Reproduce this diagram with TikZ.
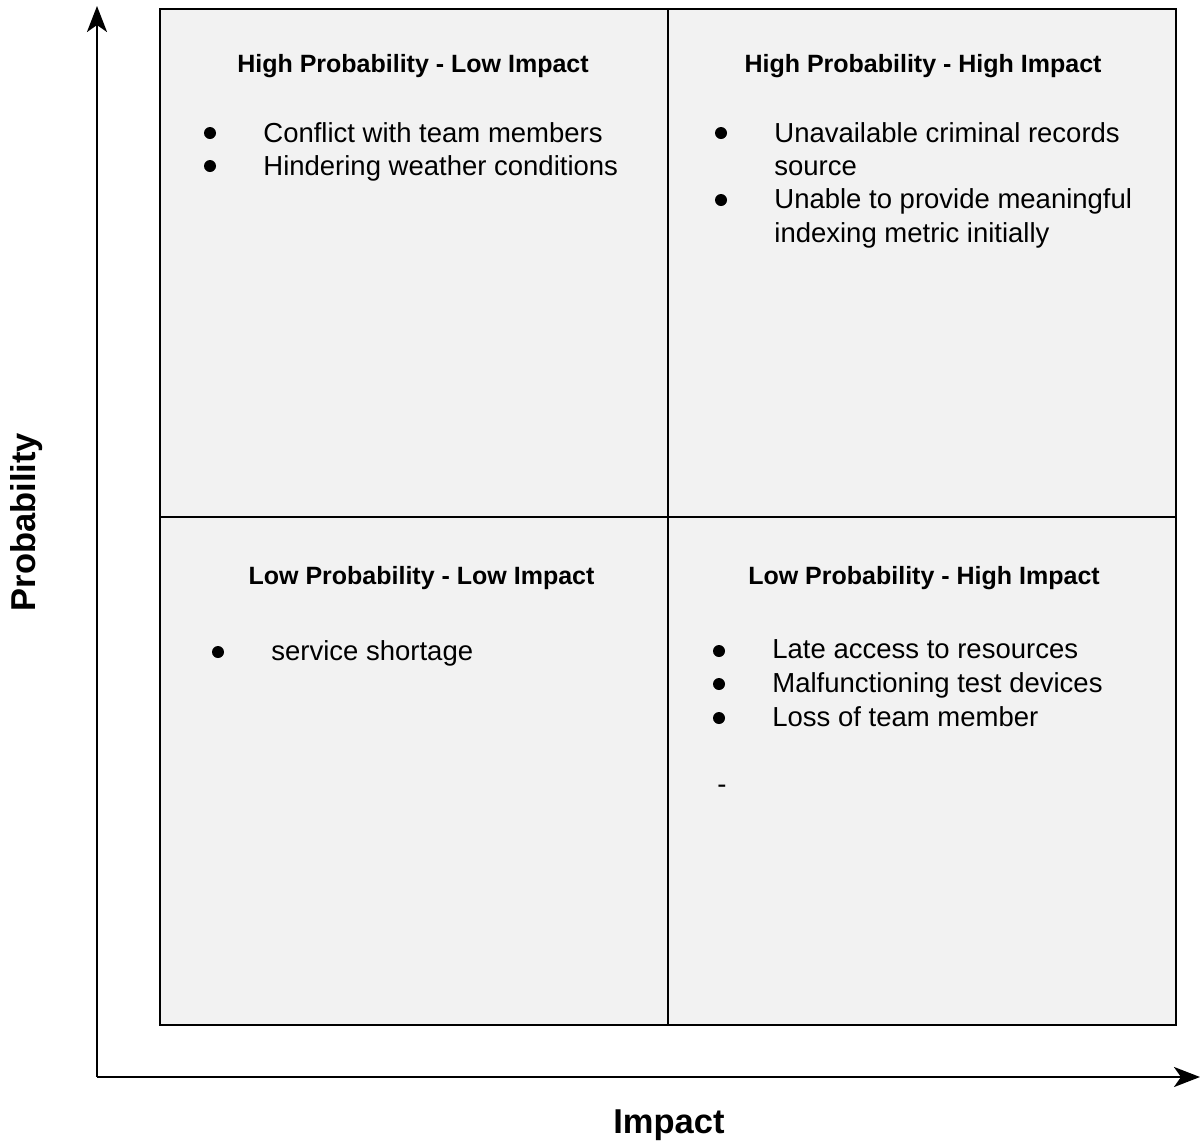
\documentclass[tikz,border=0pt]{standalone}
\usepackage{fontspec}
\setmainfont{Liberation Sans}
\usetikzlibrary{arrows.meta}
\definecolor{quadfill}{RGB}{242,242,242}
\begin{document}
\begin{tikzpicture}[x=0.5pt,y=-0.5pt,
  quad/.style={draw=black,fill=quadfill,line width=1.4pt,minimum width=254pt,minimum height=254pt,inner sep=0pt,outer sep=0pt,anchor=north west},
  qtitle/.style={anchor=base,inner sep=0pt,font=\fontsize{12.5}{15}\selectfont\bfseries},
  item/.style={anchor=base west,inner sep=0pt,font=\fontsize{13.75}{16}\selectfont},
  axislabel/.style={inner sep=0pt,font=\fontsize{17.25}{20}\selectfont\bfseries},
  axisline/.style={line width=1.4pt,-{Stealth[length=13pt,width=10pt,inset=3.5pt]}},
  dot/.style={fill=black}]
\useasboundingbox (0,0) rectangle (1201,1142);

% quadrants
\node[quad] (hl) at (160,9) {};
\node[quad] (hh) at (668,9) {};
\node[quad] (ll) at (160,517) {};
\node[quad] (lh) at (668,517) {};

% axes
\coordinate (origin) at (97,1077);
\coordinate (ytop) at (97,6);
\coordinate (xend) at (1200,1077);
\draw[axisline] (origin) -- (ytop);
\draw[axisline] (origin) -- (xend);
\node[axislabel,rotate=90] (ylab) at (27,522) {Probability};
\node[axislabel,anchor=base] (xlab) at (669,1133) {Impact};

% quadrant titles
\node[qtitle] (t1) at (413,72) {High Probability - Low Impact};
\node[qtitle] (t2) at (923,72) {High Probability - High Impact};
\node[qtitle] (t3) at (421.5,584) {Low Probability - Low Impact};
\node[qtitle] (t4) at (924,584) {Low Probability - High Impact};

% high probability - low impact
\fill[dot] (210,133) circle (6);
\fill[dot] (210,166) circle (6);
\node[item] (a1) at (263,142) {Conflict with team members};
\node[item] (a2) at (263,175) {Hindering weather conditions};

% high probability - high impact
\fill[dot] (721,133) circle (6);
\fill[dot] (721,200) circle (6);
\node[item] (b1) at (774,142) {Unavailable criminal records};
\node[item] (b2) at (774,175) {source};
\node[item] (b3) at (774,208.5) {Unable to provide meaningful};
\node[item] (b4) at (774,242) {indexing metric initially};

% low probability - low impact
\fill[dot] (218,652) circle (6);
\node[item] (c1) at (271,660) {service shortage};

% low probability - high impact
\fill[dot] (719,651) circle (6);
\fill[dot] (719,684) circle (6);
\fill[dot] (719,718) circle (6);
\node[item] (d1) at (772,658) {Late access to resources};
\node[item] (d2) at (772,692) {Malfunctioning test devices};
\node[item] (d3) at (772,726) {Loss of team member};
\node[item,anchor=base] (d4) at (722,793) {-};
\end{tikzpicture}
\end{document}
